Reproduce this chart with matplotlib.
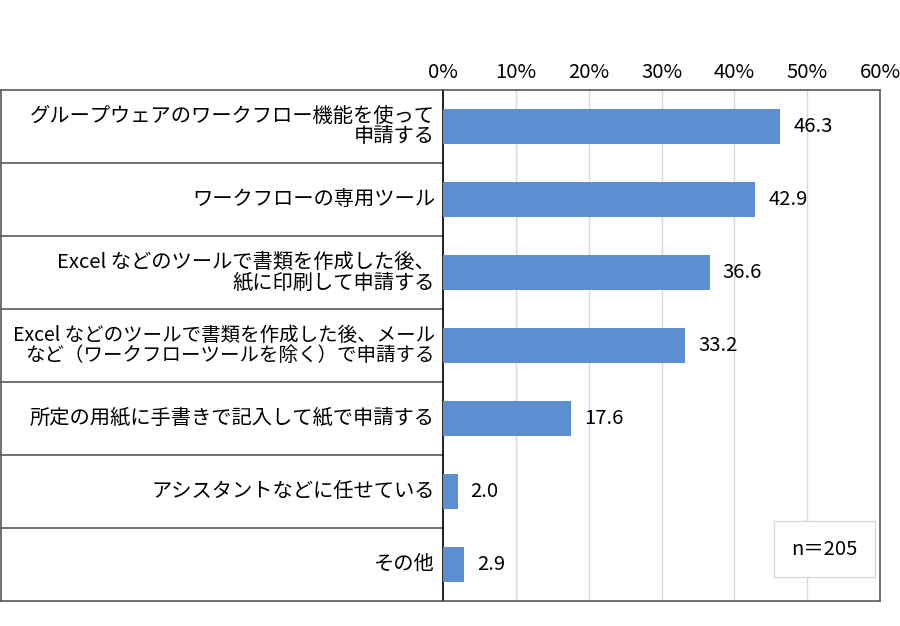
import matplotlib
matplotlib.use("Agg")
import matplotlib.pyplot as plt
from matplotlib.transforms import blended_transform_factory

plt.rcParams['font.family'] = ['Noto Sans CJK JP', 'DejaVu Sans']

categories = [
    "グループウェアのワークフロー機能を使って\n申請する",
    "ワークフローの専用ツール",
    "Excel などのツールで書類を作成した後、\n紙に印刷して申請する",
    "Excel などのツールで書類を作成した後、メール\nなど（ワークフローツールを除く）で申請する",
    "所定の用紙に手書きで記入して紙で申請する",
    "アシスタントなどに任せている",
    "その他",
]
values = [46.3, 42.9, 36.6, 33.2, 17.6, 2.0, 2.9]
xticks = [0, 10, 20, 30, 40, 50, 60]
n_label = "n＝205"

bar_color = '#5B8FCF'
fs = 14.6

fig = plt.figure(figsize=(9, 6.26), dpi=100)
ax = fig.add_axes([443 / 900, 1 - 601 / 626, (880 - 443) / 900, (601 - 90) / 626])

ypos = list(range(len(values)))
ax.barh(ypos, values, height=0.48, color=bar_color, zorder=3)
ax.set_ylim(len(values) - 0.5, -0.5)
ax.set_xlim(0, 60)
ax.set_xticks(xticks)
ax.set_xticklabels([f"{t}%" for t in xticks], fontsize=fs)
ax.xaxis.tick_top()
ax.tick_params(axis='x', length=0, pad=5)
ax.set_yticks([])
ax.grid(axis='x', color='#D9D9D9', linewidth=1, zorder=0)

for s in ['top', 'right', 'bottom']:
    ax.spines[s].set_color('#595959')
    ax.spines[s].set_linewidth(1.2)
ax.spines['left'].set_color('black')
ax.spines['left'].set_linewidth(1.2)

for y, v in zip(ypos, values):
    ax.text(v + 1.8, y, f"{v:.1f}", va='center', ha='left', fontsize=fs, zorder=4)

# label panel on the left
tr = blended_transform_factory(fig.transFigure, ax.transData)
left_x = 1 / 900
ax_x = 443 / 900
for i, lab in enumerate(categories):
    # the longest label needs a touch less size to fit in the panel
    size = 14.0 if len(lab) > 40 else fs
    ax.text(ax_x - 8 / 900, i, lab, transform=tr, ha='right', va='center',
            fontsize=size, linespacing=0.98, clip_on=False)
for b in range(len(categories) + 1):
    yb = b - 0.5
    ax.plot([left_x, ax_x], [yb, yb], transform=tr, color='#595959',
            linewidth=1.2, clip_on=False)
ax.plot([left_x, left_x], [-0.5, len(categories) - 0.5], transform=tr,
        color='#595959', linewidth=1.2, clip_on=False)

# sample size box
ax.text(0.916, 0.123, n_label, transform=fig.transFigure, ha='center', va='center',
        fontsize=fs, zorder=5,
        bbox=dict(boxstyle='square,pad=0.85', facecolor='white', edgecolor='#D9D9D9',
                  linewidth=1))

fig.savefig('out.png', dpi=100)
